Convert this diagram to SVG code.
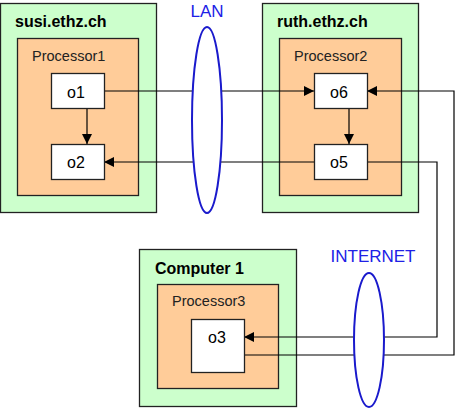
<svg xmlns="http://www.w3.org/2000/svg" width="456" height="412" viewBox="0 0 456 412">
<defs>
<style>
.host{fill:#ccffcc;stroke:#222;stroke-width:1.3}
.proc{fill:#ffcc99;stroke:#222;stroke-width:1.3}
.obj{fill:#fff;stroke:#222;stroke-width:1.3}
.hl{font-family:"Liberation Sans",Arial,sans-serif;font-weight:bold;font-size:16px;fill:#000}
.pl{font-family:"Liberation Sans",Arial,sans-serif;font-size:14.5px;fill:#222}
.ol{font-family:"Liberation Sans",Arial,sans-serif;font-size:16px;fill:#000;text-anchor:middle}
.net{fill:#fff;stroke:#1a1acc;stroke-width:2}
.nl{font-family:"Liberation Sans",Arial,sans-serif;font-size:17px;fill:#2020e6;text-anchor:middle}
.c{fill:none;stroke:#000;stroke-width:1.2;marker-end:url(#ah)}
</style>
<marker id="ah" markerWidth="10" markerHeight="10" refX="10" refY="5" orient="auto" markerUnits="userSpaceOnUse">
<path d="M0,0 L10,5 L0,10 Z" fill="#000"/>
</marker>
</defs>
<rect width="456" height="412" fill="#fff"/>
<g id="susi">
<rect class="host" x="0.5" y="3.5" width="156" height="209"/>
<text class="hl" x="15" y="27">susi.ethz.ch</text>
<g id="processor1">
<rect class="proc" x="17.5" y="38.5" width="121" height="157"/>
<text class="pl" x="32" y="61">Processor1</text>
</g>
</g>
<g id="ruth">
<rect class="host" x="262.5" y="3.5" width="156" height="209"/>
<text class="hl" x="277" y="27">ruth.ethz.ch</text>
<g id="processor2">
<rect class="proc" x="279.5" y="38.5" width="122" height="157"/>
<text class="pl" x="294" y="61">Processor2</text>
</g>
</g>
<g id="computer1">
<rect class="host" x="139.5" y="249.5" width="157" height="157"/>
<text class="hl" x="155" y="274">Computer 1</text>
<g id="processor3">
<rect class="proc" x="157.5" y="284.5" width="121" height="104"/>
<text class="pl" x="172" y="306">Processor3</text>
</g>
</g>
<g id="connectors">
<polyline class="c" points="104,91 314,91"/>
<polyline class="c" points="87,108 87,144"/>
<polyline class="c" points="349,108 349,144"/>
<polyline class="c" points="314,162 104,162"/>
<polyline class="c" points="367,162 437,162 437,337 244,337"/>
<polyline class="c" points="244,355 454,355 454,91 367,91"/>
</g>
<g id="lan">
<ellipse class="net" cx="207" cy="120" rx="15" ry="93"/>
<text class="nl" x="207" y="17">LAN</text>
</g>
<g id="internet">
<ellipse class="net" cx="369" cy="340" rx="15" ry="67"/>
<text class="nl" x="373" y="262">INTERNET</text>
</g>
<g id="o1"><rect class="obj" x="51.5" y="73.5" width="53" height="35"/><text class="ol" x="76" y="98">o1</text></g>
<g id="o2"><rect class="obj" x="51.5" y="144.5" width="53" height="35"/><text class="ol" x="76" y="168">o2</text></g>
<g id="o6"><rect class="obj" x="314.5" y="73.5" width="53" height="35"/><text class="ol" x="339" y="98">o6</text></g>
<g id="o5"><rect class="obj" x="314.5" y="144.5" width="53" height="35"/><text class="ol" x="339" y="168">o5</text></g>
<g id="o3"><rect class="obj" x="191.5" y="319.5" width="53" height="53"/><text class="ol" x="217" y="343">o3</text></g>
</svg>
